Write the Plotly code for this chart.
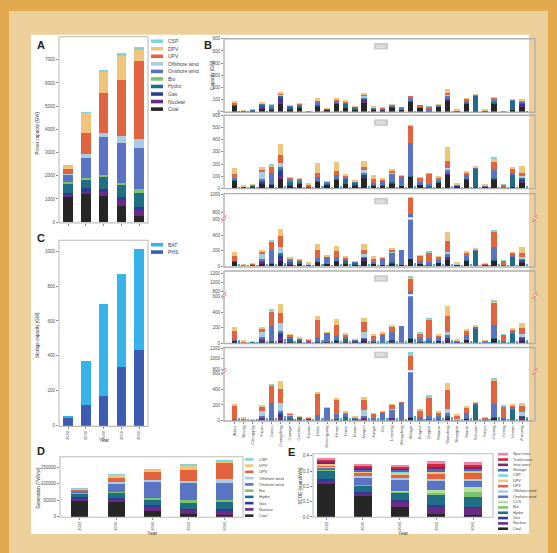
import plotly.graph_objects as go

W, H = 557, 553


def fx(x):
    return x / W


def fy(y):
    return 1 - y / H


def dom_x(a, b):
    return [fx(a), fx(b)]


def dom_y(top, bottom):
    return [fy(bottom), fy(top)]


years = ["2022", "2030", "2040", "2050", "2060"]
year_pos = [0, 1, 2, 3, 4]

# ---------------- A: national power capacity (GW) ----------------
cap_coal = [1100, 1210, 1140, 710, 285]
cap_nuclear = [55, 100, 180, 245, 245]
cap_gas = [110, 150, 130, 115, 140]
cap_hydro = [410, 390, 510, 540, 570]
cap_bio = [40, 60, 70, 100, 170]
cap_onshore = [335, 870, 1625, 1710, 1800]
cap_offshore = [30, 140, 200, 315, 380]
cap_upv = [230, 930, 1725, 2395, 3370]
cap_dpv = [160, 880, 940, 1015, 455]
cap_csp = [5, 10, 15, 125, 145]

# ---------------- C: storage capacity (GW) ----------------
sto_phs = [45, 120, 171, 335, 436]
sto_bat = [8, 250, 528, 534, 575]

# ---------------- D: generation (TWh/yr) ----------------
gen_coal = [52000, 45500, 17000, 9000, 5000]
gen_nuclear = [4200, 8000, 15000, 14000, 16000]
gen_gas = [2500, 2500, 3000, 2000, 2000]
gen_hydro = [13000, 18000, 20000, 20000, 22000]
gen_bio = [1500, 2000, 3000, 5000, 7500]
gen_onshore = [7000, 25000, 48000, 51000, 48500]
gen_offshore = [1000, 5000, 7000, 8000, 15000]
gen_upv = [3000, 13000, 23000, 34000, 48500]
gen_dpv = [2000, 9000, 8000, 12000, 2500]
gen_csp = [100, 500, 500, 5000, 5000]

# ---------------- E: system cost of electricity (yuan/kWh) ----------------
scoe_coal = [0.217, 0.137, 0.065, 0.022, 0.015]
scoe_nuclear = [0.025, 0.020, 0.040, 0.050, 0.047]
scoe_gas = [0.008, 0.004, 0.006, 0.004, 0.003]
scoe_hydro = [0.052, 0.044, 0.052, 0.065, 0.065]
scoe_bio = [0.004, 0.004, 0.006, 0.016, 0.030]
scoe_ccs = [0.0, 0.0, 0.002, 0.017, 0.036]
scoe_onshore = [0.018, 0.052, 0.070, 0.065, 0.043]
scoe_offshore = [0.005, 0.011, 0.014, 0.012, 0.012]
scoe_upv = [0.012, 0.012, 0.024, 0.036, 0.038]
scoe_dpv = [0.008, 0.014, 0.013, 0.010, 0.010]
scoe_csp = [0.001, 0.002, 0.003, 0.004, 0.004]
scoe_storage = [0.004, 0.012, 0.015, 0.010, 0.012]
scoe_intra = [0.008, 0.010, 0.006, 0.015, 0.012]
scoe_trunk = [0.016, 0.016, 0.016, 0.022, 0.020]
scoe_spur = [0.007, 0.008, 0.009, 0.015, 0.012]

# ---------------- B: provincial capacity (GW) ----------------
provinces = ["Anhui", "Beijing", "Chongqing", "Fujian", "Gansu", "Guangdong", "Guangxi",
             "Guizhou", "Hainan", "Hebei", "Heilongjiang", "Henan", "Hubei", "Hunan",
             "Jiangsu", "Jiangxi", "Jilin", "Liaoning", "Mengdong", "Mengxi", "Ningxia",
             "Qinghai", "Shaanxi", "Shandong", "Shanghai", "Shanxi", "Sichuan", "Tianjin",
             "Xinjiang", "Xizang", "Yunnan", "Zhejiang"]

b22_coal = [55, 3, 12, 30, 25, 70, 25, 35, 4, 50, 25, 70, 35, 25, 80, 25, 18, 35, 25, 85, 35, 4, 45, 100, 10, 70, 10, 12, 70, 0, 12, 50]
b22_nuclear = [0, 0, 0, 16, 0, 16, 2, 0, 3, 0, 0, 0, 0, 0, 7, 0, 0, 7, 0, 0, 0, 0, 0, 4, 0, 0, 0, 0, 0, 0, 0, 9]
b22_gas = [2, 9, 2, 4, 0, 35, 0, 0, 1, 2, 0, 3, 1, 1, 20, 0, 1, 2, 0, 0, 0, 0, 2, 3, 7, 2, 1, 4, 2, 0, 0, 12]
b22_hydro = [3, 0, 7, 13, 9, 15, 19, 22, 1, 2, 1, 4, 38, 16, 2, 7, 4, 3, 0, 2, 1, 13, 3, 1, 0, 2, 125, 0, 7, 2, 80, 12]
b22_onshore = [6, 0, 0, 7, 20, 5, 8, 6, 0, 25, 2, 19, 8, 4, 12, 6, 10, 10, 12, 30, 14, 10, 9, 25, 0, 23, 5, 1, 24, 0, 9, 2]
b22_offshore = [0, 0, 0, 3, 0, 8, 0, 0, 0, 0, 0, 0, 0, 0, 12, 0, 0, 1, 0, 0, 0, 0, 0, 3, 1, 0, 0, 0, 0, 0, 0, 3]
b22_upv = [10, 0, 1, 1, 10, 4, 3, 6, 1, 20, 1, 6, 6, 2, 10, 4, 3, 3, 3, 8, 10, 17, 5, 20, 0, 15, 2, 1, 15, 2, 4, 5]
b22_dpv = [8, 1, 1, 2, 1, 8, 2, 1, 0, 15, 1, 15, 4, 2, 12, 3, 1, 2, 0, 0, 0, 0, 3, 30, 1, 4, 1, 1, 2, 0, 1, 15]
b22_csp = [0, 0, 0, 0, 1, 0, 0, 0, 0, 0, 0, 0, 0, 0, 0, 0, 0, 0, 0, 0, 0, 1, 0, 0, 0, 0, 0, 0, 0, 0, 0, 0]
b22_bat = [0, 0, 0, 0, 1, 1, 0, 0, 0, 1, 0, 0, 0, 0, 1, 0, 0, 0, 0, 1, 1, 1, 0, 1, 0, 0, 0, 0, 1, 0, 0, 0]
b22_phs = [4, 2, 0, 2, 0, 8, 0, 0, 1, 3, 1, 2, 1, 1, 3, 1, 1, 1, 0, 1, 0, 0, 0, 3, 0, 1, 0, 0, 0, 0, 0, 5]

b30_coal = [60, 3, 12, 35, 30, 80, 25, 35, 5, 55, 30, 70, 35, 25, 85, 25, 20, 35, 20, 100, 30, 3, 45, 110, 15, 75, 10, 12, 75, 0, 10, 50]
b30_nuclear = [0, 0, 0, 15, 0, 25, 4, 0, 8, 0, 0, 0, 0, 0, 7, 0, 0, 10, 0, 0, 0, 0, 0, 10, 0, 0, 0, 0, 0, 0, 0, 10]
b30_gas = [3, 10, 3, 4, 0, 40, 1, 1, 3, 3, 1, 4, 2, 2, 20, 1, 1, 3, 0, 0, 0, 0, 3, 5, 8, 3, 2, 5, 2, 0, 0, 15]
b30_hydro = [5, 0, 10, 10, 10, 15, 20, 22, 1, 3, 2, 5, 40, 16, 2, 8, 5, 3, 0, 2, 1, 20, 4, 2, 0, 3, 150, 0, 8, 10, 100, 12]
b30_onshore = [15, 0, 0, 15, 90, 15, 25, 10, 0, 35, 20, 30, 15, 10, 10, 10, 35, 70, 80, 270, 25, 15, 20, 30, 0, 30, 5, 2, 70, 1, 20, 3]
b30_offshore = [0, 0, 0, 60, 0, 30, 0, 0, 0, 0, 0, 0, 0, 0, 25, 0, 0, 5, 0, 0, 0, 0, 0, 10, 2, 0, 0, 1, 0, 0, 0, 15]
b30_upv = [35, 2, 2, 15, 50, 70, 10, 10, 10, 30, 2, 30, 15, 6, 25, 35, 13, 15, 4, 140, 30, 82, 20, 55, 3, 20, 5, 3, 65, 20, 35, 25]
b30_dpv = [50, 10, 2, 20, 10, 90, 5, 5, 8, 80, 3, 75, 12, 3, 55, 30, 2, 20, 1, 5, 2, 2, 5, 120, 10, 11, 3, 5, 27, 1, 14, 55]
b30_csp = [0, 0, 0, 0, 2, 0, 0, 0, 0, 0, 0, 0, 0, 0, 0, 0, 0, 0, 0, 0, 0, 3, 0, 0, 0, 0, 0, 0, 2, 1, 0, 0]
b30_bat = [5, 2, 2, 3, 8, 10, 5, 3, 2, 10, 4, 8, 4, 3, 10, 4, 4, 6, 4, 15, 6, 10, 5, 15, 3, 8, 3, 3, 12, 2, 5, 8]
b30_phs = [4, 0, 1, 3, 0, 9, 1, 0, 1, 4, 1, 3, 2, 1, 3, 2, 2, 2, 0, 2, 0, 1, 1, 4, 0, 2, 1, 0, 1, 0, 0, 7]

b40_coal = [55, 2, 10, 30, 30, 70, 20, 30, 4, 50, 25, 60, 30, 20, 75, 25, 15, 30, 15, 95, 30, 2, 40, 80, 12, 70, 8, 10, 70, 0, 8, 45]
b40_nuclear = [0, 0, 0, 25, 0, 30, 6, 0, 10, 0, 0, 0, 0, 0, 10, 0, 0, 15, 0, 0, 0, 0, 0, 30, 0, 0, 0, 0, 0, 0, 0, 15]
b40_gas = [3, 8, 3, 4, 0, 40, 2, 1, 3, 3, 1, 4, 2, 2, 20, 1, 1, 3, 0, 0, 0, 0, 3, 5, 8, 3, 2, 5, 2, 0, 0, 15]
b40_hydro = [5, 0, 10, 10, 10, 15, 25, 25, 1, 3, 2, 5, 40, 18, 2, 8, 5, 3, 0, 2, 1, 20, 4, 2, 0, 3, 185, 0, 10, 15, 110, 12]
b40_onshore = [10, 0, 0, 20, 170, 20, 25, 12, 2, 45, 95, 50, 20, 12, 10, 15, 80, 120, 200, 683, 40, 30, 30, 40, 0, 60, 10, 3, 170, 2, 30, 5]
b40_offshore = [0, 0, 0, 70, 0, 70, 3, 0, 5, 0, 0, 0, 0, 0, 35, 0, 0, 8, 0, 0, 0, 0, 0, 25, 5, 0, 0, 3, 0, 0, 0, 30]
b40_upv = [65, 3, 2, 20, 110, 140, 20, 10, 12, 105, 3, 80, 20, 6, 60, 40, 5, 30, 0, 190, 60, 120, 40, 150, 5, 40, 10, 8, 190, 48, 20, 50]
b40_dpv = [50, 5, 2, 20, 6, 100, 5, 5, 8, 85, 2, 60, 10, 4, 80, 40, 2, 10, 0, 5, 2, 2, 5, 115, 15, 15, 3, 8, 5, 1, 10, 75]
b40_csp = [0, 0, 0, 0, 5, 0, 0, 0, 0, 0, 0, 0, 0, 0, 0, 0, 0, 0, 0, 0, 0, 8, 0, 0, 0, 0, 0, 0, 5, 2, 0, 0]
b40_bat = [12, 3, 3, 8, 20, 25, 8, 5, 3, 18, 8, 15, 8, 5, 20, 8, 8, 12, 10, 40, 10, 20, 10, 25, 5, 15, 6, 5, 30, 4, 10, 15]
b40_phs = [6, 1, 2, 5, 1, 12, 2, 1, 1, 6, 2, 5, 4, 2, 4, 3, 3, 3, 1, 3, 1, 2, 2, 6, 0, 3, 2, 0, 2, 0, 1, 10]

b50_coal = [25, 1, 5, 15, 20, 25, 10, 15, 2, 15, 10, 30, 15, 10, 25, 10, 5, 10, 5, 60, 20, 0, 25, 30, 5, 40, 3, 5, 50, 0, 3, 25]
b50_nuclear = [0, 0, 0, 30, 0, 55, 10, 0, 15, 0, 0, 0, 0, 0, 15, 0, 0, 25, 0, 0, 0, 0, 0, 30, 0, 0, 0, 0, 0, 0, 0, 25]
b50_gas = [2, 6, 2, 3, 0, 35, 2, 1, 2, 2, 1, 3, 2, 2, 15, 1, 1, 2, 0, 0, 0, 0, 2, 4, 7, 2, 2, 4, 2, 0, 0, 12]
b50_hydro = [5, 0, 10, 10, 10, 15, 25, 25, 1, 3, 3, 5, 40, 18, 2, 8, 5, 3, 0, 2, 1, 25, 5, 2, 0, 3, 185, 0, 12, 20, 120, 12]
b50_onshore = [15, 0, 0, 20, 190, 25, 35, 12, 3, 55, 115, 50, 25, 10, 15, 20, 100, 100, 212, 753, 45, 40, 35, 40, 0, 60, 15, 5, 170, 3, 40, 5]
b50_offshore = [0, 0, 0, 70, 0, 100, 5, 0, 8, 0, 0, 0, 0, 0, 70, 0, 0, 10, 0, 0, 0, 0, 0, 40, 8, 0, 0, 4, 0, 0, 0, 45]
b50_upv = [110, 15, 2, 40, 190, 140, 20, 7, 10, 220, 3, 150, 25, 5, 130, 60, 15, 60, 0, 275, 60, 240, 30, 210, 10, 60, 10, 8, 290, 80, 15, 70]
b50_dpv = [50, 3, 1, 20, 10, 110, 3, 2, 4, 60, 2, 70, 12, 3, 55, 25, 2, 13, 0, 5, 5, 2, 5, 120, 15, 15, 2, 3, 5, 2, 5, 60]
b50_csp = [0, 0, 0, 0, 20, 0, 0, 0, 0, 0, 0, 0, 0, 0, 0, 0, 0, 0, 0, 52, 3, 20, 0, 0, 0, 0, 0, 0, 25, 5, 0, 0]
b50_bat = [15, 3, 3, 10, 30, 28, 10, 6, 4, 22, 10, 18, 10, 6, 25, 10, 10, 14, 12, 45, 12, 25, 12, 30, 6, 18, 6, 5, 40, 5, 10, 18]
b50_phs = [10, 2, 4, 8, 3, 20, 4, 2, 2, 10, 4, 8, 8, 4, 6, 6, 6, 5, 2, 6, 2, 4, 4, 10, 1, 5, 4, 1, 4, 0, 2, 15]

b60_coal = [10, 0, 3, 0, 10, 10, 5, 10, 1, 5, 5, 15, 10, 5, 10, 5, 3, 5, 3, 40, 10, 0, 15, 15, 3, 20, 2, 3, 30, 0, 2, 10]
b60_nuclear = [0, 0, 0, 30, 0, 60, 10, 0, 15, 0, 0, 0, 0, 0, 20, 0, 0, 25, 0, 0, 0, 0, 0, 35, 0, 0, 0, 0, 0, 0, 0, 30]
b60_gas = [1, 4, 1, 2, 0, 20, 1, 1, 1, 1, 1, 2, 1, 1, 10, 1, 1, 1, 0, 0, 0, 0, 1, 3, 5, 1, 1, 3, 1, 0, 0, 8]
b60_hydro = [5, 0, 10, 10, 10, 15, 25, 25, 1, 3, 5, 5, 40, 18, 2, 8, 5, 3, 0, 2, 1, 25, 5, 2, 0, 3, 200, 0, 12, 25, 130, 12]
b60_onshore = [10, 0, 0, 15, 200, 15, 25, 10, 3, 60, 150, 60, 30, 12, 15, 15, 95, 110, 220, 755, 40, 40, 40, 40, 0, 70, 15, 5, 170, 3, 50, 5]
b60_offshore = [0, 0, 0, 70, 0, 110, 5, 0, 8, 0, 0, 0, 0, 0, 80, 0, 0, 10, 0, 0, 0, 0, 0, 50, 10, 0, 0, 5, 0, 0, 0, 50]
b60_upv = [165, 25, 1, 50, 220, 170, 10, 4, 10, 275, 3, 180, 20, 5, 130, 55, 5, 45, 2, 255, 80, 230, 45, 250, 40, 70, 5, 20, 300, 150, 10, 75]
b60_dpv = [10, 3, 1, 15, 5, 100, 2, 2, 3, 15, 1, 20, 8, 3, 35, 8, 1, 5, 0, 3, 5, 2, 5, 90, 15, 10, 2, 5, 5, 2, 5, 35]
b60_csp = [0, 0, 0, 0, 20, 0, 0, 0, 0, 0, 0, 0, 0, 0, 0, 0, 0, 0, 0, 75, 5, 25, 0, 0, 0, 0, 0, 0, 30, 5, 0, 0]
b60_bat = [18, 3, 4, 12, 35, 30, 12, 8, 5, 25, 10, 20, 12, 8, 28, 12, 10, 15, 12, 50, 15, 30, 15, 35, 8, 20, 8, 6, 45, 6, 12, 20]
b60_phs = [14, 2, 5, 10, 4, 25, 5, 3, 2, 12, 5, 10, 10, 5, 8, 8, 8, 6, 3, 8, 3, 5, 5, 12, 1, 6, 6, 1, 5, 0, 3, 18]

# ---------------- styling ----------------
C = {
    "Coal": "#262626", "Nuclear": "#6a2a86", "Gas": "#2b3b98", "Hydro": "#1f6e85",
    "Bio": "#7cc46c", "CCS": "#b3e19c", "Onshore wind": "#5a73c2", "Offshore wind": "#a8cbe6",
    "UPV": "#e1643f", "DPV": "#f1c47c", "CSP": "#80d5d8", "Storage": "#3d6cc2",
    "Intra trans": "#7c2374", "Trunk trans": "#d3253f", "Spur trans": "#ee86a8",
    "BAT": "#36b4ea", "PHS": "#3b5cb2",
}
FRAME = "#bcbcbc"
TICKFONT = dict(size=4.5, color="#505050")

fig = go.Figure()


def stack(xvals, series, names, xa, ya, width):
    for vals, name in zip(series, names):
        fig.add_trace(go.Bar(
            x=xvals, y=vals, width=width, name=name,
            marker=dict(color=C[name], line=dict(width=0)),
            xaxis=xa, yaxis=ya, showlegend=False, hoverinfo="skip"))


gen_names = ["Coal", "Nuclear", "Gas", "Hydro", "Bio", "Onshore wind", "Offshore wind", "UPV", "DPV", "CSP"]

# A
stack(year_pos, [cap_coal, cap_nuclear, cap_gas, cap_hydro, cap_bio, cap_onshore,
                 cap_offshore, cap_upv, cap_dpv, cap_csp], gen_names, "x", "y", 0.53)
# C
stack(year_pos, [sto_phs, sto_bat], ["PHS", "BAT"], "x2", "y2", 0.53)
# D
stack(year_pos, [gen_coal, gen_nuclear, gen_gas, gen_hydro, gen_bio, gen_onshore,
                 gen_offshore, gen_upv, gen_dpv, gen_csp], gen_names, "x3", "y3", 0.47)
# E
scoe_names = ["Coal", "Nuclear", "Gas", "Hydro", "Bio", "CCS", "Onshore wind", "Offshore wind",
              "UPV", "DPV", "CSP", "Storage", "Intra trans", "Trunk trans", "Spur trans"]
stack(year_pos, [scoe_coal, scoe_nuclear, scoe_gas, scoe_hydro, scoe_bio, scoe_ccs, scoe_onshore,
                 scoe_offshore, scoe_upv, scoe_dpv, scoe_csp, scoe_storage, scoe_intra,
                 scoe_trunk, scoe_spur], scoe_names, "x4", "y4", 0.49)

# B
b_x = list(range(len(provinces)))
b_sto_x = [i + 0.5 for i in b_x]
b_names = ["Coal", "Nuclear", "Gas", "Hydro", "Onshore wind", "Offshore wind", "UPV", "DPV", "CSP"]
b_years = [
    ([b22_coal, b22_nuclear, b22_gas, b22_hydro, b22_onshore, b22_offshore, b22_upv, b22_dpv, b22_csp], b22_phs, b22_bat),
    ([b30_coal, b30_nuclear, b30_gas, b30_hydro, b30_onshore, b30_offshore, b30_upv, b30_dpv, b30_csp], b30_phs, b30_bat),
    ([b40_coal, b40_nuclear, b40_gas, b40_hydro, b40_onshore, b40_offshore, b40_upv, b40_dpv, b40_csp], b40_phs, b40_bat),
    ([b50_coal, b50_nuclear, b50_gas, b50_hydro, b50_onshore, b50_offshore, b50_upv, b50_dpv, b50_csp], b50_phs, b50_bat),
    ([b60_coal, b60_nuclear, b60_gas, b60_hydro, b60_onshore, b60_offshore, b60_upv, b60_dpv, b60_csp], b60_phs, b60_bat),
]
upper_axis = {2: 10, 3: 11, 4: 12}
for k, (series, phs, bat) in enumerate(b_years):
    xa = "x%d" % (5 + k)
    ylist = ["y%d" % (5 + k)]
    if k in upper_axis:
        ylist.append("y%d" % upper_axis[k])
    for ya in ylist:
        stack(b_x, series, b_names, xa, ya, 0.58)
        stack(b_sto_x, [phs, bat], ["PHS", "BAT"], xa, ya, 0.24)

# ---------------- axes ----------------
layout = dict(
    width=W, height=H, margin=dict(l=0, r=0, t=0, b=0),
    paper_bgcolor="#e3a94f", plot_bgcolor="white", barmode="stack",
    font=dict(family="Liberation Sans, Arial, sans-serif", size=5, color="#333"),
    showlegend=False,
)


def yax(dom_top, dom_bot, rng, tickvals, ticktext=None, anchor="x", showlabels=True):
    d = dict(domain=dom_y(dom_top, dom_bot), range=rng, anchor=anchor, showgrid=False,
             zeroline=False, showline=False, ticks="outside", ticklen=2, tickwidth=0.6,
             tickcolor="#888", tickfont=TICKFONT, tickvals=tickvals, fixedrange=True,
             showticklabels=showlabels)
    if ticktext is not None:
        d["ticktext"] = ticktext
    return d


def xax(left, right, rng, anchor, tickvals, ticktext=None, showlabels=False, angle=-90, ticks="outside"):
    d = dict(domain=dom_x(left, right), range=rng, anchor=anchor, showgrid=False,
             zeroline=False, showline=False, ticks=ticks, ticklen=2, tickwidth=0.6,
             tickcolor="#888", tickfont=dict(size=4, color="#505050"), tickvals=tickvals,
             tickangle=angle, fixedrange=True, showticklabels=showlabels)
    if ticktext is not None:
        d["ticktext"] = ticktext
    return d


# A
layout["xaxis"] = xax(59, 148, [-0.51, 4.5], "y", year_pos)
layout["yaxis"] = yax(35, 222.5, [-30, 7990], [0, 1000, 2000, 3000, 4000, 5000, 6000, 7000], anchor="x")
# C
layout["xaxis2"] = xax(59, 148, [-0.51, 4.5], "y2", year_pos, years, showlabels=True)
layout["yaxis2"] = yax(240, 427.5, [-5, 1063], [0, 200, 400, 600, 800, 1000], anchor="x2")
# D
layout["xaxis3"] = xax(60, 243, [-0.55, 4.5], "y3", year_pos, years, showlabels=True)
layout["yaxis3"] = yax(458, 519, [-1000, 182000], [0, 50000, 100000, 150000],
                       ["0", "50000", "100000", "150000"], anchor="x3")
# E
layout["xaxis4"] = xax(313, 493, [-0.36, 4.54], "y4", year_pos, years, showlabels=True)
layout["yaxis4"] = yax(455, 519, [-0.002, 0.413], [0, 0.1, 0.2, 0.3, 0.4],
                       ["0.0", "0.1", "0.2", "0.3", "0.4"], anchor="x4")

# B
B_LEFT, B_RIGHT = 224, 535
b_xrange = [-1.1, 32.4]
b_frames = [(37, 111), (114, 188), (193, 267), (271, 344), (348, 422)]
b_lower = [(37, 111, [-2, 600], [0, 100, 200, 300, 400, 500, 600]),
           (114, 188, [-2, 602], [0, 100, 200, 300, 400, 500, 600]),
           (219, 267, [-10, 604], [0, 200, 400, 600]),
           (296.5, 344, [-5, 605], [0, 200, 400, 600]),
           (373, 422, [-4, 616], [0, 200, 400, 600])]
b_upper = {2: (193, 217, [745, 1011], [800, 1000]),
           3: (271, 294.5, [740, 1250], [800, 1000, 1200]),
           4: (348, 371, [790, 1210], [800, 1000, 1200])}
for k in range(5):
    last = k == 4
    layout["xaxis%d" % (5 + k)] = xax(B_LEFT, B_RIGHT, b_xrange, "y%d" % (5 + k), b_x,
                                      provinces if last else None, showlabels=last,
                                      ticks="outside" if last else "")
    top, bot, rng, tv = b_lower[k]
    layout["yaxis%d" % (5 + k)] = yax(top, bot, rng, tv, anchor="x%d" % (5 + k))
    if k in b_upper:
        top, bot, rng, tv = b_upper[k]
        layout["yaxis%d" % upper_axis[k]] = yax(top, bot, rng, tv, anchor="x%d" % (5 + k))

# ---------------- decorations ----------------
shapes = []
annotations = []


def rect(x0, y0, x1, y1, fill=None, line=None, lw=0, layer="below"):
    d = dict(type="rect", xref="paper", yref="paper", x0=fx(x0), x1=fx(x1),
             y0=fy(y1), y1=fy(y0), layer=layer, line=dict(width=lw, color=line or "rgba(0,0,0,0)"))
    if fill:
        d["fillcolor"] = fill
    shapes.append(d)


def text(x, y, s, size=5, angle=0, xanchor="center", yanchor="middle", color="#333", bold=False):
    annotations.append(dict(x=fx(x), y=fy(y), xref="paper", yref="paper", text="<b>%s</b>" % s if bold else s,
                            showarrow=False, textangle=angle, xanchor=xanchor, yanchor=yanchor,
                            font=dict(size=size, color=color)))


# page background bands
rect(9, 9, 548, 560, fill="#edcf99")
rect(31, 33, 529, 536, fill="#ffffff")

# panel frames
for (l, t, r, b) in [(59, 35, 148, 222.5), (59, 240, 148, 427.5), (60, 458, 243, 519), (313, 455, 493, 519)]:
    rect(l, t, r, b, line=FRAME, lw=1.1, layer="above")
for (t, b) in b_frames:
    rect(B_LEFT, t, B_RIGHT, b, line="#b0b0b0", lw=1.4, layer="above")

# axis breaks
for yb in [218, 295.5, 372]:
    for xb in [B_LEFT, B_RIGHT]:
        rect(xb - 2, yb - 1.2, xb + 2, yb + 1.2, fill="white", layer="above")
        for dy in (-1.2, 1.2):
            shapes.append(dict(type="line", xref="paper", yref="paper",
                               x0=fx(xb - 2.5), y0=fy(yb + dy + 2), x1=fx(xb + 2.5), y1=fy(yb + dy - 2),
                               line=dict(color="#e05a5a", width=0.9), layer="above"))

# year tags in B
for (t, b), yr in zip(b_frames, years):
    yc = t + 7.5
    rect(374, yc - 3.3, 388, yc + 3.3, fill="#cdcdcd", layer="above")
    text(381, yc, yr, size=4, color="white")

# panel letters
text(41.5, 43, "A", size=11, bold=True, color="#222")
text(207.5, 43, "B", size=11, bold=True, color="#222")
text(41.5, 238, "C", size=11, bold=True, color="#222")
text(40.5, 452, "D", size=11, bold=True, color="#222")
text(291, 453, "E", size=11, bold=True, color="#222")

# axis titles
text(37.5, 132, "Power capacity (GW)", size=4.5, angle=-90)
text(37.5, 336, "Storage capacity (GW)", size=4.5, angle=-90)
text(212.5, 74, "Capacity (GW)", size=4.5, angle=-90)
text(38, 489, "Generation (TWh/yr)", size=4.5, angle=-90)
text(300, 487, "SCOE (yuan/kWh)", size=4.5, angle=-90)
text(103.5, 441, "Year", size=5)
text(151.5, 535, "Year", size=5)
text(403, 535, "Year", size=5)


def legend(x0, y0, step, sw_w, sw_h, items, size):
    for j, name in enumerate(items):
        yc = y0 + j * step
        rect(x0, yc - sw_h / 2, x0 + sw_w, yc + sw_h / 2, fill=C[name], layer="above")
        text(x0 + sw_w + 3, yc, name, size=size, xanchor="left", color="#444")


gen_legend = ["CSP", "DPV", "UPV", "Offshore wind", "Onshore wind", "Bio", "Hydro", "Gas", "Nuclear", "Coal"]
legend(151, 39.5, 7.6, 12, 3.6, gen_legend, 5)
legend(151, 244.5, 7.4, 12, 3.6, ["BAT", "PHS"], 5)
legend(245, 460.7, 6.3, 8.5, 2.6, gen_legend, 4)
legend(498, 455.5, 5.36, 10, 2.6, list(reversed(scoe_names)), 3.8)

layout["shapes"] = shapes
layout["annotations"] = annotations
fig.update_layout(**layout)
fig.write_html("out.html")
